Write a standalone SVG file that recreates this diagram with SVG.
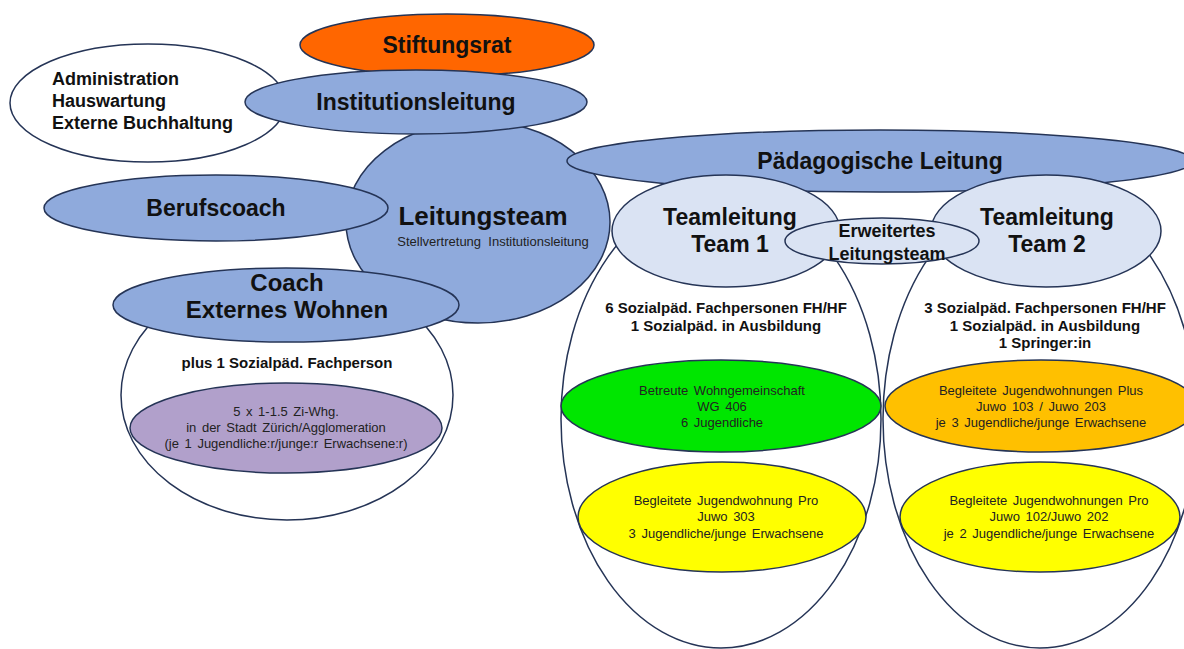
<svg xmlns="http://www.w3.org/2000/svg" width="1184" height="649" viewBox="0 0 1184 649">
<style>
ellipse{stroke:#253456;stroke-width:1.5}
.blue{fill:#8FAADC}
.light{fill:#DAE3F3}
.white{fill:#FFFFFF}
text{font-family:"Liberation Sans",Arial,sans-serif;fill:#111;text-anchor:middle}
.h23{font-size:23px;font-weight:bold}
.h18{font-size:18px;font-weight:bold}
.h15{font-size:15px;font-weight:bold}
.sm{font-size:13px;word-spacing:2px;fill:#222}
</style>
<rect width="1184" height="649" fill="#FFFFFF"/>
<g id="administration">
<ellipse class="white" cx="148" cy="103" rx="138" ry="59"/>
<text class="h18" x="52" y="85" style="text-anchor:start">Administration</text>
<text class="h18" x="52" y="107" style="text-anchor:start">Hauswartung</text>
<text class="h18" x="52" y="129" style="text-anchor:start">Externe Buchhaltung</text>
</g>
<g id="stiftungsrat">
<ellipse cx="447" cy="45" rx="147" ry="31" fill="#FF6600" stroke="#222"/>
<text class="h23" x="447" y="53">Stiftungsrat</text>
</g>
<g id="team1-bereich">
<ellipse class="white" cx="721" cy="419" rx="160" ry="229"/>
</g>
<g id="team2-bereich">
<ellipse class="white" cx="1040" cy="419" rx="157" ry="229"/>
</g>
<g id="externes-wohnen-bereich">
<ellipse class="white" cx="287" cy="395" rx="166" ry="125"/>
</g>
<g id="leitungsteam">
<ellipse class="blue" cx="478" cy="222" rx="132" ry="101"/>
<text x="483" y="225" style="font-size:26px;font-weight:bold">Leitungsteam</text>
<text x="493" y="246" style="font-size:13px;fill:#222">Stellvertretung&#160; Institutionsleitung</text>
</g>
<g id="institutionsleitung">
<ellipse class="blue" cx="416" cy="102" rx="171" ry="32"/>
<text class="h23" x="416" y="110">Institutionsleitung</text>
</g>
<g id="berufscoach">
<ellipse class="blue" cx="216" cy="208" rx="172" ry="33"/>
<text class="h23" x="216" y="216">Berufscoach</text>
</g>
<g id="coach-externes-wohnen">
<ellipse class="blue" cx="286" cy="305" rx="173" ry="37"/>
<text x="287" y="291" style="font-size:24px;font-weight:bold">Coach</text>
<text x="287" y="318" style="font-size:24px;font-weight:bold">Externes Wohnen</text>
</g>
<g id="externes-wohnen-personal">
<text class="h15" x="287" y="368">plus 1 Sozialpäd. Fachperson</text>
</g>
<g id="wohnungen-extern">
<ellipse cx="286" cy="428" rx="156" ry="45" fill="#B1A0CB"/>
<text class="sm" x="286" y="416">5 x 1-1.5 Zi-Whg.</text>
<text class="sm" x="286" y="432">in der Stadt Zürich/Agglomeration</text>
<text class="sm" x="286" y="448">(je 1 Jugendliche:r/junge:r Erwachsene:r)</text>
</g>
<g id="paedagogische-leitung">
<ellipse class="blue" cx="880" cy="161" rx="313" ry="31"/>
<text class="h23" x="880" y="169">Pädagogische Leitung</text>
</g>
<g id="teamleitung1">
<ellipse class="light" cx="726" cy="231" rx="114" ry="56"/>
<text class="h23" x="730" y="225">Teamleitung</text>
<text class="h23" x="730" y="252">Team 1</text>
</g>
<g id="teamleitung2">
<ellipse class="light" cx="1046" cy="231" rx="115" ry="56"/>
<text class="h23" x="1047" y="225">Teamleitung</text>
<text class="h23" x="1047" y="252">Team 2</text>
</g>
<g id="erweitertes-leitungsteam">
<ellipse class="light" cx="882" cy="241" rx="97" ry="23"/>
<text class="h18" x="887" y="237">Erweitertes</text>
<text class="h18" x="887" y="260">Leitungsteam</text>
</g>
<g id="team1-personal">
<text class="h15" x="726" y="313">6 Sozialpäd. Fachpersonen FH/HF</text>
<text class="h15" x="726" y="331">1 Sozialpäd. in Ausbildung</text>
</g>
<g id="team2-personal">
<text class="h15" x="1045" y="313">3 Sozialpäd. Fachpersonen FH/HF</text>
<text class="h15" x="1045" y="331">1 Sozialpäd. in Ausbildung</text>
<text class="h15" x="1045" y="348">1 Springer:in</text>
</g>
<g id="wg406">
<ellipse cx="721" cy="406" rx="160" ry="46" fill="#00E600"/>
<text class="sm" x="722" y="395">Betreute Wohngemeinschaft</text>
<text class="sm" x="722" y="411">WG 406</text>
<text class="sm" x="722" y="427">6 Jugendliche</text>
</g>
<g id="juwo-plus">
<ellipse cx="1041" cy="406" rx="156" ry="46" fill="#FFC000"/>
<text class="sm" x="1041" y="395">Begleitete Jugendwohnungen Plus</text>
<text class="sm" x="1041" y="411">Juwo 103 / Juwo 203</text>
<text class="sm" x="1041" y="427">je 3 Jugendliche/junge Erwachsene</text>
</g>
<g id="juwo-pro-303">
<ellipse cx="722" cy="517" rx="144" ry="55" fill="#FFFF00"/>
<text class="sm" x="726" y="505">Begleitete Jugendwohnung Pro</text>
<text class="sm" x="726" y="521">Juwo 303</text>
<text class="sm" x="726" y="538">3 Jugendliche/junge Erwachsene</text>
</g>
<g id="juwo-pro-102-202">
<ellipse cx="1040" cy="517" rx="140" ry="55" fill="#FFFF00"/>
<text class="sm" x="1049" y="505">Begleitete Jugendwohnungen Pro</text>
<text class="sm" x="1049" y="521">Juwo 102/Juwo 202</text>
<text class="sm" x="1049" y="538">je 2 Jugendliche/junge Erwachsene</text>
</g>
<g id="connectors"></g>
</svg>
